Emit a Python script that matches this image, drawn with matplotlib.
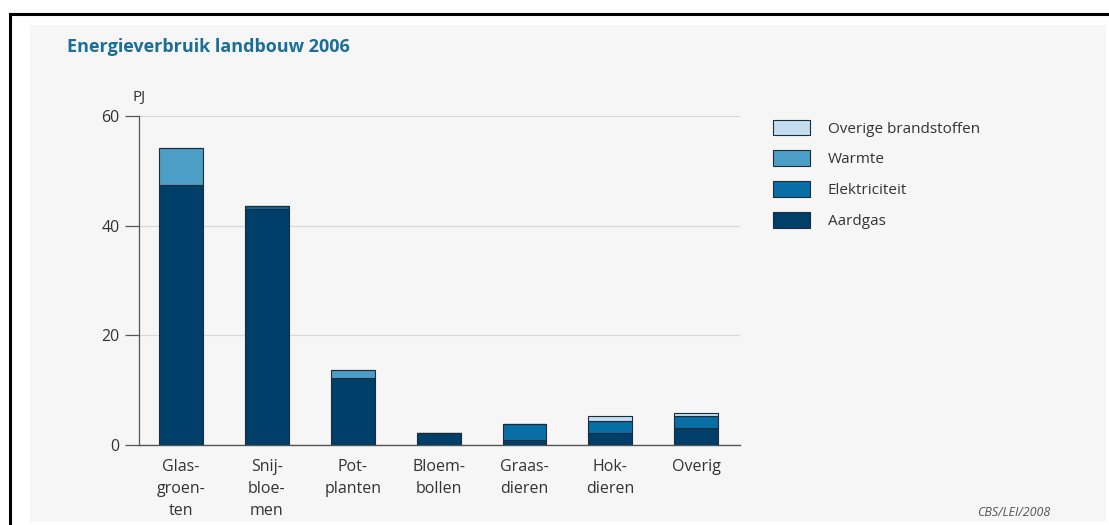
import matplotlib
matplotlib.use("Agg")
import matplotlib.pyplot as plt
from matplotlib.patches import Rectangle
from matplotlib.lines import Line2D
import numpy as np

plt.rcParams['font.family'] = ['Open Sans', 'DejaVu Sans']

# data (PJ)
categories = ['Glas-\ngroen-\nten', 'Snij-\nbloe-\nmen', 'Pot-\nplanten', 'Bloem-\nbollen',
              'Graas-\ndieren', 'Hok-\ndieren', 'Overig']
aardgas = [47.4, 43.1, 12.2, 2.2, 1.0, 2.2, 3.1]
elektriciteit = [0.0, 0.5, 0.0, 0.0, 2.8, 2.1, 2.2]
warmte = [6.8, 0.0, 1.4, 0.0, 0.0, 0.0, 0.0]
overige = [0.0, 0.0, 0.0, 0.0, 0.0, 1.0, 0.6]

series = [('Aardgas', aardgas, '#003f6a'),
          ('Elektriciteit', elektriciteit, '#086ea6'),
          ('Warmte', warmte, '#4d9ec6'),
          ('Overige brandstoffen', overige, '#c4def0')]

W, H = 1109, 525
fig = plt.figure(figsize=(W / 100, H / 100), dpi=100)
fig.patch.set_facecolor('white')

# light panel and black frame lines
fig.patches.append(Rectangle((30 / W, 1 - 522 / H), (1106 - 30) / W, (522 - 25) / H,
                             transform=fig.transFigure, facecolor='#f6f6f6', edgecolor='none',
                             zorder=-10))
fig.lines.append(Line2D([10 / W, 1], [1 - 14 / H, 1 - 14 / H], transform=fig.transFigure,
                        color='black', lw=2.2))
fig.lines.append(Line2D([10 / W, 10 / W], [0, 1 - 14 / H], transform=fig.transFigure,
                        color='black', lw=2.2))

ax = fig.add_axes([139 / W, 1 - 445 / H, (740 - 139) / W, (445 - 116) / H])
ax.set_facecolor('none')

x = np.arange(len(categories))
bottom = np.zeros(len(categories))
handles = {}
for name, vals, col in series:
    vals = np.array(vals)
    b = ax.bar(x, vals, 0.51, bottom=bottom, color=col, edgecolor='#1c2c3a', linewidth=0.8,
               label=name, zorder=3)
    handles[name] = b
    bottom += vals

ax.set_xlim(-0.49, 6.51)
ax.set_ylim(0, 60)
ax.set_yticks([0, 20, 40, 60])
ax.set_xticks(x)
ax.set_xticklabels(categories, fontsize=11.5, color='#333333', linespacing=1.5)
ax.tick_params(axis='x', length=0, pad=10)
ax.tick_params(axis='y', length=10, width=0.9, color='#555555', labelsize=11.5,
               labelcolor='#333333', pad=4)
ax.grid(axis='y', color='#d8d8d8', lw=0.9, zorder=1)
for s in ['top', 'right']:
    ax.spines[s].set_visible(False)
ax.spines['left'].set_color('#555555')
ax.spines['bottom'].set_color('#555555')
ax.spines['left'].set_linewidth(0.9)
ax.spines['bottom'].set_linewidth(1.0)

fig.text(67 / W, 1 - 47 / H, 'Energieverbruik landbouw 2006', fontsize=13, fontweight='bold',
         color='#1b6e98', va='center', ha='left')
fig.text(133 / W, 1 - 98 / H, 'PJ', fontsize=11, color='#333333', va='center', ha='left')

order = ['Overige brandstoffen', 'Warmte', 'Elektriciteit', 'Aardgas']
fig.legend([handles[n] for n in order], order, loc='upper left',
           bbox_to_anchor=(759 / W, 1 - 106 / H), frameon=False, fontsize=11,
           handlelength=2.45, handleheight=1.2, handletextpad=1.15, labelspacing=0.9,
           labelcolor='#333333')

fig.text(977 / W, 1 - 512 / H, 'CBS/LEI/2008', fontsize=9, style='italic', color='#555555',
         va='center', ha='left')

fig.savefig('out.png', dpi=100)
